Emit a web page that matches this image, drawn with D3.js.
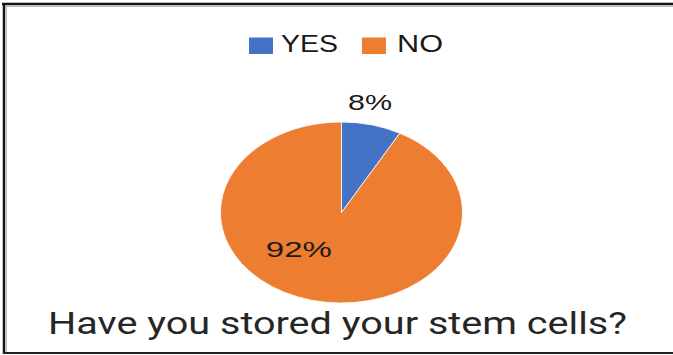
<!DOCTYPE html>
<html>
<head>
<meta charset="utf-8">
<script src="https://cdn.jsdelivr.net/npm/d3@7/dist/d3.min.js"></script>
<style>
  html, body { margin: 0; padding: 0; background: #fff; }
  svg { display: block; }
</style>
</head>
<body>
<script>
// Survey answers
const categories = ["YES", "NO"];
const values = [8, 92];
const labels = ["8%", "92%"];
const colors = ["#4472C4", "#ED7D31"];
const title = "Have you stored your stem cells?";

const W = 673, H = 355;
const svg = d3.select("body").append("svg").attr("width", W).attr("height", H);

// Frame
const frame = svg.append("g");
frame.append("line").attr("x1", 2).attr("x2", W).attr("y1", 4).attr("y2", 4)
  .attr("stroke", "#111").attr("stroke-width", 2.5);
frame.append("line").attr("x1", 6).attr("x2", W).attr("y1", 6.5).attr("y2", 6.5)
  .attr("stroke", "#bbb").attr("stroke-width", 1);
frame.append("line").attr("x1", 4).attr("x2", 4).attr("y1", 3).attr("y2", 354)
  .attr("stroke", "#111").attr("stroke-width", 2.5);
frame.append("line").attr("x1", 6.5).attr("x2", 6.5).attr("y1", 6).attr("y2", 352)
  .attr("stroke", "#bbb").attr("stroke-width", 1);
frame.append("line").attr("x1", 3).attr("x2", W).attr("y1", 353).attr("y2", 353)
  .attr("stroke", "#222").attr("stroke-width", 2);

// Pie (elliptical, stretched horizontally)
const cx = 341.5, cy = 212.5, rx = 121, ry = 90.5;
const pie = d3.pie().sort(null).value(d => d)(values);
const arc = d3.arc().innerRadius(0).outerRadius(ry);

const pieG = svg.append("g")
  .attr("transform", `translate(${cx},${cy}) scale(${rx / ry},1)`);
pieG.selectAll("path").data(pie).join("path")
  .attr("d", arc)
  .attr("fill", (d, i) => colors[i])
  .attr("stroke", "#fff")
  .attr("stroke-width", 0.8)
  .attr("vector-effect", "non-scaling-stroke");

// Data labels: placed along each slice's mid-angle
const labelRadius = [1.25, 0.42];
const labelShift = [[-9, 0], [-30, 0]];
const labelG = svg.append("g");
pie.forEach((d, i) => {
  const a = (d.startAngle + d.endAngle) / 2;
  const x = cx + rx * labelRadius[i] * Math.sin(a) + labelShift[i][0];
  const y = cy - ry * labelRadius[i] * Math.cos(a) + labelShift[i][1];
  labelG.append("text")
    .attr("x", x).attr("y", y)
    .attr("text-anchor", "middle")
    .attr("dominant-baseline", "central")
    .attr("font-family", "Liberation Sans, Arial, sans-serif")
    .attr("font-size", 22)
    .attr("fill", "#1a1a1a")
    .attr("textLength", labels[i].length * 22)
    .attr("lengthAdjust", "spacingAndGlyphs")
    .text(labels[i]);
});

// Legend
const legendItems = [
  { sq: 249, tx: 281, tw: 57 },
  { sq: 362, tx: 397, tw: 46 }
];
const legend = svg.append("g");
categories.forEach((c, i) => {
  const li = legendItems[i];
  legend.append("rect").attr("x", li.sq).attr("y", 37.5).attr("width", 24).attr("height", 16.5)
    .attr("fill", colors[i]);
  legend.append("text")
    .attr("x", li.tx).attr("y", 52)
    .attr("font-family", "Liberation Sans, Arial, sans-serif")
    .attr("font-size", 23)
    .attr("fill", "#1a1a1a")
    .attr("textLength", li.tw)
    .attr("lengthAdjust", "spacingAndGlyphs")
    .text(c);
});

// Title
svg.append("text")
  .attr("x", 48).attr("y", 334)
  .attr("font-family", "Roboto, sans-serif")
  .attr("font-size", 31)
  .attr("fill", "#262626")
  .attr("textLength", 579)
  .attr("lengthAdjust", "spacingAndGlyphs")
  .text(title);
</script>
</body>
</html>
